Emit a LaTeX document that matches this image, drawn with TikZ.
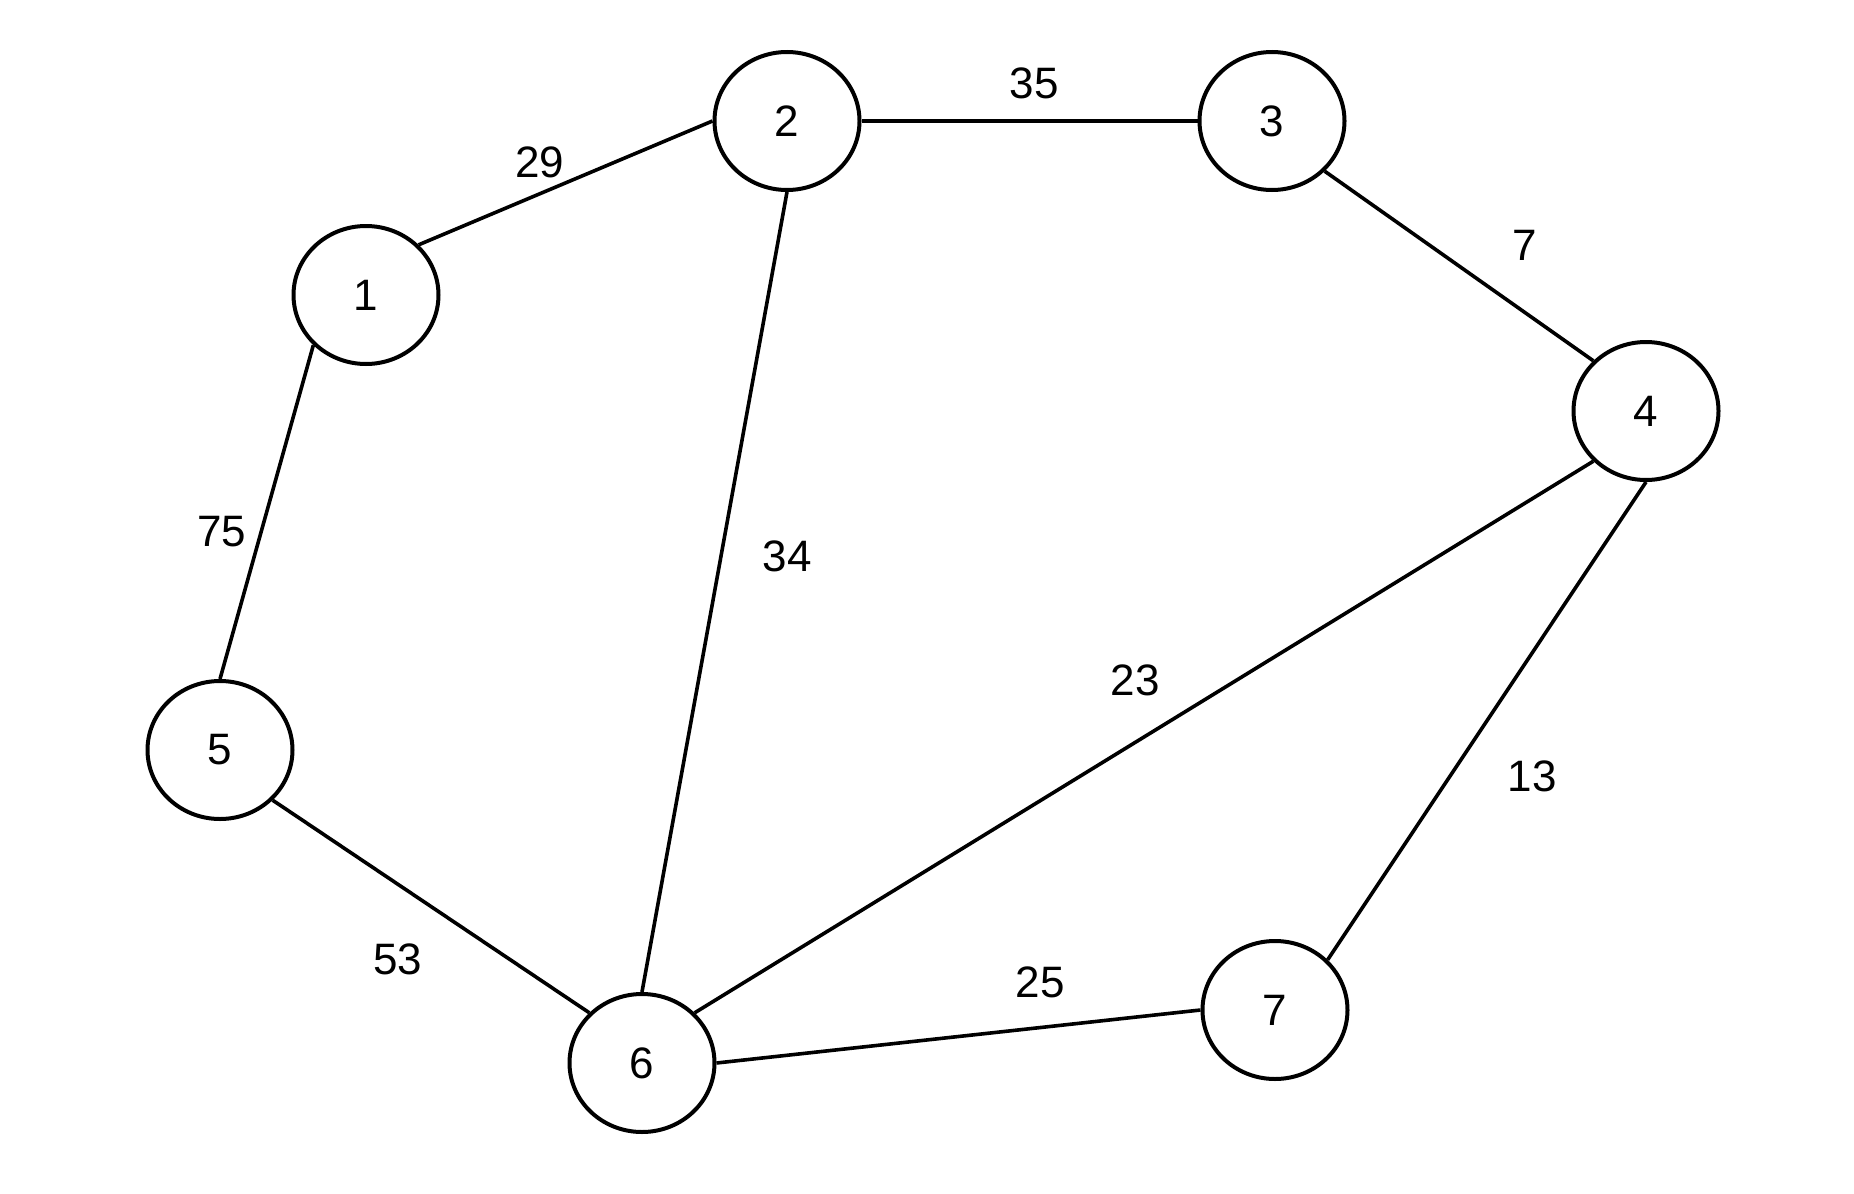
\documentclass[tikz,border=0pt]{standalone}
\usepackage{fontspec}
\setmainfont{Liberation Sans}
\usetikzlibrary{shapes.geometric}
\begin{document}
\begin{tikzpicture}[x=0.5pt,y=-0.5pt,
  vertex/.style={draw=black,line width=2pt,ellipse,inner sep=0pt,minimum width=72.5pt,minimum height=69pt,font=\fontsize{22}{26}\selectfont},
  edge/.style={draw=black,line width=1.8pt},
  wlabel/.style={font=\fontsize{22}{26}\selectfont,inner sep=0pt}]
\useasboundingbox (0,0) rectangle (1854,1194);
\node[vertex] (n1) at (366,295) {1};
\node[vertex] (n2) at (787,121) {2};
\node[vertex] (n3) at (1272,121) {3};
\node[vertex] (n4) at (1646,411) {4};
\node[vertex] (n5) at (220,750) {5};
\node[vertex] (n6) at (642,1063) {6};
\node[vertex] (n7) at (1275,1010) {7};
\draw[edge] (n1.north east) -- (n2.west);
\draw[edge] (n2.east) -- (n3.west);
\draw[edge] (n3.south east) -- (n4.north west);
\draw[edge] (n1.south west) -- (n5.north);
\draw[edge] (n2.south) -- (n6.north);
\draw[edge] (n4.south west) -- (n6.north east);
\draw[edge] (n4.south) -- (n7.north east);
\draw[edge] (n5.south east) -- (n6.north west);
\draw[edge] (n6.east) -- (n7.west);
\node[wlabel] (l29) at (540,162) {29};
\node[wlabel] (l35) at (1034,83) {35};
\node[wlabel] (l7) at (1525,245) {7};
\node[wlabel] (l75) at (222,532) {75};
\node[wlabel] (l34) at (787,556) {34};
\node[wlabel] (l23) at (1135,680) {23};
\node[wlabel] (l13) at (1532,776) {13};
\node[wlabel] (l53) at (398,959) {53};
\node[wlabel] (l25) at (1040,982) {25};
\end{tikzpicture}
\end{document}
